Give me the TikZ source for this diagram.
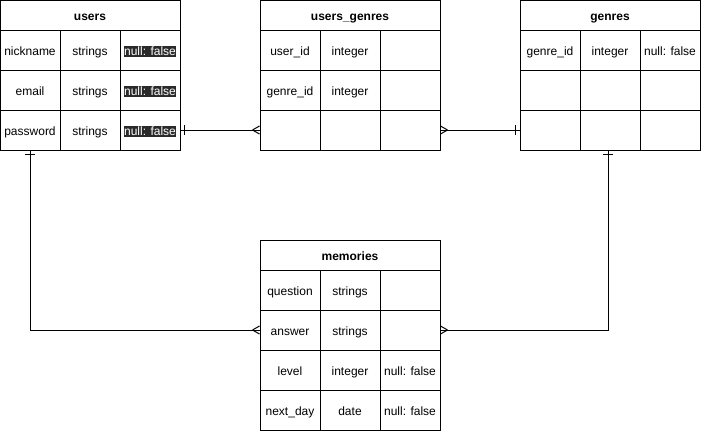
\documentclass[tikz,border=0pt]{standalone}
\usepackage{fontspec}
\setmainfont{Liberation Sans}
\definecolor{hlgray}{HTML}{2A2A2A}
\setlength{\fboxsep}{0pt}
\newcommand{\nfhl}{\colorbox{hlgray}{\rule[-2.3pt]{0pt}{10pt}\textcolor{white}{null: false}}}
\begin{document}
\begin{tikzpicture}[x=1pt,y=-1pt,line width=1pt,
  cell/.style={draw, minimum width=60pt, minimum height=40pt, inner sep=0pt, text height=10pt, text depth=0pt, font=\fontsize{12}{14}\selectfont},
  head/.style={draw, minimum width=180pt, minimum height=30pt, inner sep=0pt, text height=10pt, text depth=0pt, font=\fontsize{12}{14}\selectfont\bfseries},
  conn/.style={line width=1pt}]
\useasboundingbox (0,0) rectangle (701,431);
% users
\node[head] (users) at (90,15) {users};
\node[cell] (u11) at (30,50) {nickname};
\node[cell] (u12) at (90,50) {strings};
\node[cell] (u13) at (150,50) {\nfhl};
\node[cell] (u21) at (30,90) {email};
\node[cell] (u22) at (90,90) {strings};
\node[cell] (u23) at (150,90) {\nfhl};
\node[cell] (u31) at (30,130) {password};
\node[cell] (u32) at (90,130) {strings};
\node[cell] (u33) at (150,130) {\nfhl};
% users_genres
\node[head] (ug) at (350,15) {users\_genres};
\node[cell] (ug11) at (290,50) {user\_id};
\node[cell] (ug12) at (350,50) {integer};
\node[cell] (ug13) at (410,50) {};
\node[cell] (ug21) at (290,90) {genre\_id};
\node[cell] (ug22) at (350,90) {integer};
\node[cell] (ug23) at (410,90) {};
\node[cell] (ug31) at (290,130) {};
\node[cell] (ug32) at (350,130) {};
\node[cell] (ug33) at (410,130) {};
% genres
\node[head] (genres) at (610,15) {genres};
\node[cell] (g11) at (550,50) {genre\_id};
\node[cell] (g12) at (610,50) {integer};
\node[cell] (g13) at (670,50) {null: false};
\node[cell] (g21) at (550,90) {};
\node[cell] (g22) at (610,90) {};
\node[cell] (g23) at (670,90) {};
\node[cell] (g31) at (550,130) {};
\node[cell] (g32) at (610,130) {};
\node[cell] (g33) at (670,130) {};
% memories
\node[head] (memories) at (350,255) {memories};
\node[cell] (m11) at (290,290) {question};
\node[cell] (m12) at (350,290) {strings};
\node[cell] (m13) at (410,290) {};
\node[cell] (m21) at (290,330) {answer};
\node[cell] (m22) at (350,330) {strings};
\node[cell] (m23) at (410,330) {};
\node[cell] (m31) at (290,370) {level};
\node[cell] (m32) at (350,370) {integer};
\node[cell] (m33) at (410,370) {null: false};
\node[cell] (m41) at (290,410) {next\_day};
\node[cell] (m42) at (350,410) {date};
\node[cell] (m43) at (410,410) {null: false};
% users -- users_genres
\draw[conn] (u33.east) -- (ug31.west);
\draw[conn] ([xshift=4pt]u33.east) ++(0,-5) -- ++(0,10);
\draw[conn] ([xshift=-7pt]ug31.west) -- ++(7,-4) ([xshift=-7pt]ug31.west) -- ++(7,4);
% users_genres -- genres
\draw[conn] (ug33.east) -- (g31.west);
\draw[conn] ([xshift=7pt]ug33.east) -- ++(-7,-4) ([xshift=7pt]ug33.east) -- ++(-7,4);
\draw[conn] ([xshift=-4pt]g31.west) ++(0,-5) -- ++(0,10);
% users -- memories
\draw[conn] (u31.south) |- (m21.west);
\draw[conn] ([yshift=-4pt]u31.south) ++(-5,0) -- ++(10,0);
\draw[conn] ([xshift=-7pt]m21.west) -- ++(7,-4) ([xshift=-7pt]m21.west) -- ++(7,4);
% genres -- memories
\draw[conn] ([xshift=-2pt]g32.south) |- (m23.east);
\draw[conn] ([xshift=-2pt,yshift=-4pt]g32.south) ++(-5,0) -- ++(10,0);
\draw[conn] ([xshift=7pt]m23.east) -- ++(-7,-4) ([xshift=7pt]m23.east) -- ++(-7,4);
\end{tikzpicture}
\end{document}
